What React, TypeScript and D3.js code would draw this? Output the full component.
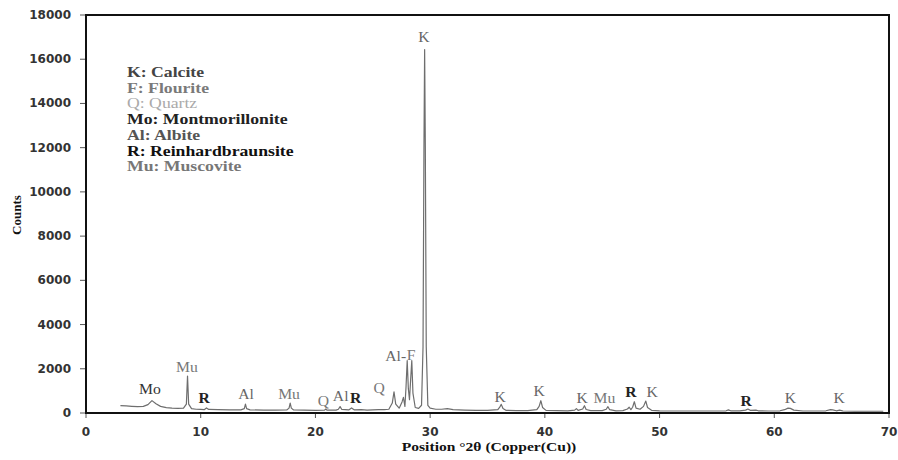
import React from "react";
import * as d3 from "d3";

const W = 898;
const H = 460;

// XRD profile: [2θ, counts]
const profile: [number, number][] = [
  [3.0, 330], [3.5, 320], [4.0, 300], [4.5, 285], [5.0, 300], [5.4, 380], [5.75, 560], [6.1, 420], [6.5, 300],
  [7.0, 240], [7.5, 220], [8.0, 210], [8.5, 220], [8.75, 400], [8.85, 1670], [8.95, 400], [9.2, 200], [9.6, 170],
  [10.0, 160], [10.3, 150], [10.5, 230], [10.7, 160], [11.5, 150], [12.5, 140], [13.5, 140], [13.8, 200], [13.9, 400],
  [14.0, 200], [14.3, 140], [15.5, 130], [16.5, 130], [17.5, 140], [17.7, 220], [17.8, 450], [17.9, 220], [18.1, 140],
  [19.0, 130], [20.0, 120], [20.8, 130], [20.9, 180], [21.0, 130], [21.8, 130], [22.0, 170], [22.15, 290], [22.3, 160],
  [22.9, 140], [23.15, 230], [23.4, 140], [24.0, 150], [24.5, 130], [25.0, 140], [25.5, 150], [26.0, 150], [26.4, 170],
  [26.7, 450], [26.85, 960], [27.0, 400], [27.3, 220], [27.55, 500], [27.67, 710], [27.8, 300], [27.9, 1200],
  [28.0, 2370], [28.1, 1100], [28.2, 600], [28.3, 1500], [28.4, 2370], [28.5, 900], [28.7, 250], [29.0, 210],
  [29.25, 350], [29.38, 3000], [29.46, 12000], [29.52, 16440], [29.58, 12000], [29.66, 3000], [29.8, 350],
  [30.0, 220], [30.5, 170], [31.0, 170], [31.5, 200], [32.0, 150], [33.0, 130], [34.0, 120], [35.0, 120], [35.9, 150],
  [36.05, 250], [36.2, 390], [36.35, 200], [36.6, 120], [37.5, 110], [38.5, 110], [39.3, 150], [39.5, 300], [39.65, 555],
  [39.8, 250], [40.1, 120], [41.0, 110], [42.0, 100], [42.6, 130], [42.75, 200], [42.9, 120], [43.3, 180], [43.45, 330],
  [43.6, 160], [44.0, 110], [45.0, 110], [45.35, 170], [45.5, 285], [45.65, 150], [46.2, 100], [46.8, 110], [47.2, 180],
  [47.35, 260], [47.5, 150], [47.65, 260], [47.8, 510], [47.95, 220], [48.3, 170], [48.6, 300], [48.8, 540], [48.95, 250],
  [49.3, 120], [50.0, 100], [51.0, 90], [52.0, 90], [53.0, 90], [54.0, 90], [55.0, 90], [55.8, 100], [56.0, 140],
  [56.2, 100], [57.0, 100], [57.5, 130], [57.7, 180], [57.9, 120], [58.4, 130], [58.6, 100], [59.5, 90], [60.5, 100],
  [60.9, 150], [61.2, 220], [61.4, 210], [61.7, 130], [62.5, 90], [63.5, 90], [64.5, 100], [64.9, 150], [65.1, 140],
  [65.4, 100], [65.7, 130], [66.0, 90], [67.0, 80], [68.0, 80], [69.0, 80], [69.5, 80],
];

// peak annotations: text, 2θ, counts, phase
const peakLabels: [string, number, number, string][] = [
  ["Mo", 5.58, 860, "Mo"], ["Mu", 8.8, 1850, "Mu"], ["R", 10.3, 450, "R"], ["Al", 13.95, 630, "Al"],
  ["Mu", 17.7, 630, "Mu"], ["Q", 20.7, 320, "Q"], ["Al", 22.2, 540, "Al"], ["R", 23.5, 450, "R"],
  ["Q", 25.55, 900, "Q"], ["Al-", 27.0, 2350, "Al"], ["F", 28.35, 2400, "F"], ["K", 29.45, 16780, "K"],
  ["K", 36.1, 500, "K"], ["K", 39.5, 770, "K"], ["K", 43.25, 450, "K"], ["Mu", 45.2, 450, "Mu"],
  ["R", 47.5, 720, "R"], ["K", 49.35, 720, "K"], ["R", 57.55, 320, "R"], ["K", 61.4, 450, "K"], ["K", 65.65, 450, "K"],
];

const legendItems: [string, string][] = [
  ["K", "K: Calcite"], ["F", "F: Flourite"], ["Q", "Q: Quartz"], ["Mo", "Mo: Montmorillonite"],
  ["Al", "Al: Albite"], ["R", "R: Reinhardbraunsite"], ["Mu", "Mu: Muscovite"],
];

const xTicks = [0, 10, 20, 30, 40, 50, 60, 70];
const yTicks = [0, 2000, 4000, 6000, 8000, 10000, 12000, 14000, 16000, 18000];

const phaseStyle: Record<string, { fill: string; weight: string }> = {
  K: { fill: "#444", weight: "bold" },
  F: { fill: "#7a7a7a", weight: "bold" },
  Q: { fill: "#aaa", weight: "normal" },
  Mo: { fill: "#222", weight: "bold" },
  Al: { fill: "#555", weight: "bold" },
  R: { fill: "#111", weight: "bold" },
  Mu: { fill: "#777", weight: "bold" },
};
const peakStyle: Record<string, { fill: string; weight: string }> = {
  K: { fill: "#666", weight: "normal" },
  F: { fill: "#777", weight: "normal" },
  Q: { fill: "#777", weight: "normal" },
  Mo: { fill: "#333", weight: "normal" },
  Al: { fill: "#666", weight: "normal" },
  R: { fill: "#222", weight: "bold" },
  Mu: { fill: "#777", weight: "normal" },
};

export default function App() {
  const left = 86, right = 889, top = 15, bottom = 413;
  const x = d3.scaleLinear().domain([0, 70]).range([left, right]);
  const y = d3.scaleLinear().domain([0, 18000]).range([bottom, top]);
  const line = d3.line<[number, number]>().x((d) => x(d[0])).y((d) => y(d[1]));
  const serif = "'Liberation Serif', 'Times New Roman', serif";
  const tickFont = "'DejaVu Sans', sans-serif";

  return (
    <svg width={W} height={H} style={{ position: "absolute", left: 0, top: 0, background: "#fff" }}>
      <rect x={0} y={0} width={W} height={H} fill="#fff" />
      {/* y ticks */}
      {yTicks.map((t) => (
        <g key={"y" + t}>
          <line x1={left - 6} x2={left} y1={y(t)} y2={y(t)} stroke="#555" strokeWidth={1} />
          <text x={left - 15} y={y(t) + 4} textAnchor="end" fontFamily={tickFont} fontWeight="bold" fontSize={12} fill="#333">
            {t}
          </text>
        </g>
      ))}
      {/* x ticks */}
      {xTicks.map((t) => (
        <g key={"x" + t}>
          <line x1={x(t)} x2={x(t)} y1={bottom} y2={bottom + 5} stroke="#555" strokeWidth={1} />
          <text x={x(t)} y={436} textAnchor="middle" fontFamily={tickFont} fontWeight="bold" fontSize={12} fill="#333">
            {t}
          </text>
        </g>
      ))}
      {/* frame */}
      <rect x={left} y={top} width={right - left} height={bottom - top} fill="none" stroke="#111" strokeWidth={2} />
      {/* profile */}
      <path d={line(profile) || ""} fill="none" stroke="#6e6e6e" strokeWidth={1.2} strokeLinejoin="round" />
      {/* peak labels */}
      {peakLabels.map(([txt, px, py, ph], i) => (
        <text key={"p" + i} transform={`translate(${x(px)},${y(py)}) scale(1.12,1)`} textAnchor="middle" fontFamily={serif} fontSize={14}
          fontWeight={peakStyle[ph].weight} fill={peakStyle[ph].fill}>
          {txt}
        </text>
      ))}
      {/* legend */}
      {legendItems.map(([ph, txt], i) => (
        <text key={"l" + i} transform={`translate(127,${77 + i * 15.7}) scale(1.18,1)`} fontFamily={serif} fontSize={15}
          fontWeight={phaseStyle[ph].weight} fill={phaseStyle[ph].fill}>
          {txt}
        </text>
      ))}
      {/* axis titles */}
      <text transform="translate(489,451) scale(1.2,1)" textAnchor="middle" fontFamily={serif} fontWeight="bold" fontSize={13} fill="#111">
        Position °2θ (Copper(Cu))
      </text>
      <text transform={`translate(21,215) rotate(-90)`} textAnchor="middle" fontFamily={serif} fontWeight="bold" fontSize={13} fill="#111">
        Counts
      </text>
    </svg>
  );
}
